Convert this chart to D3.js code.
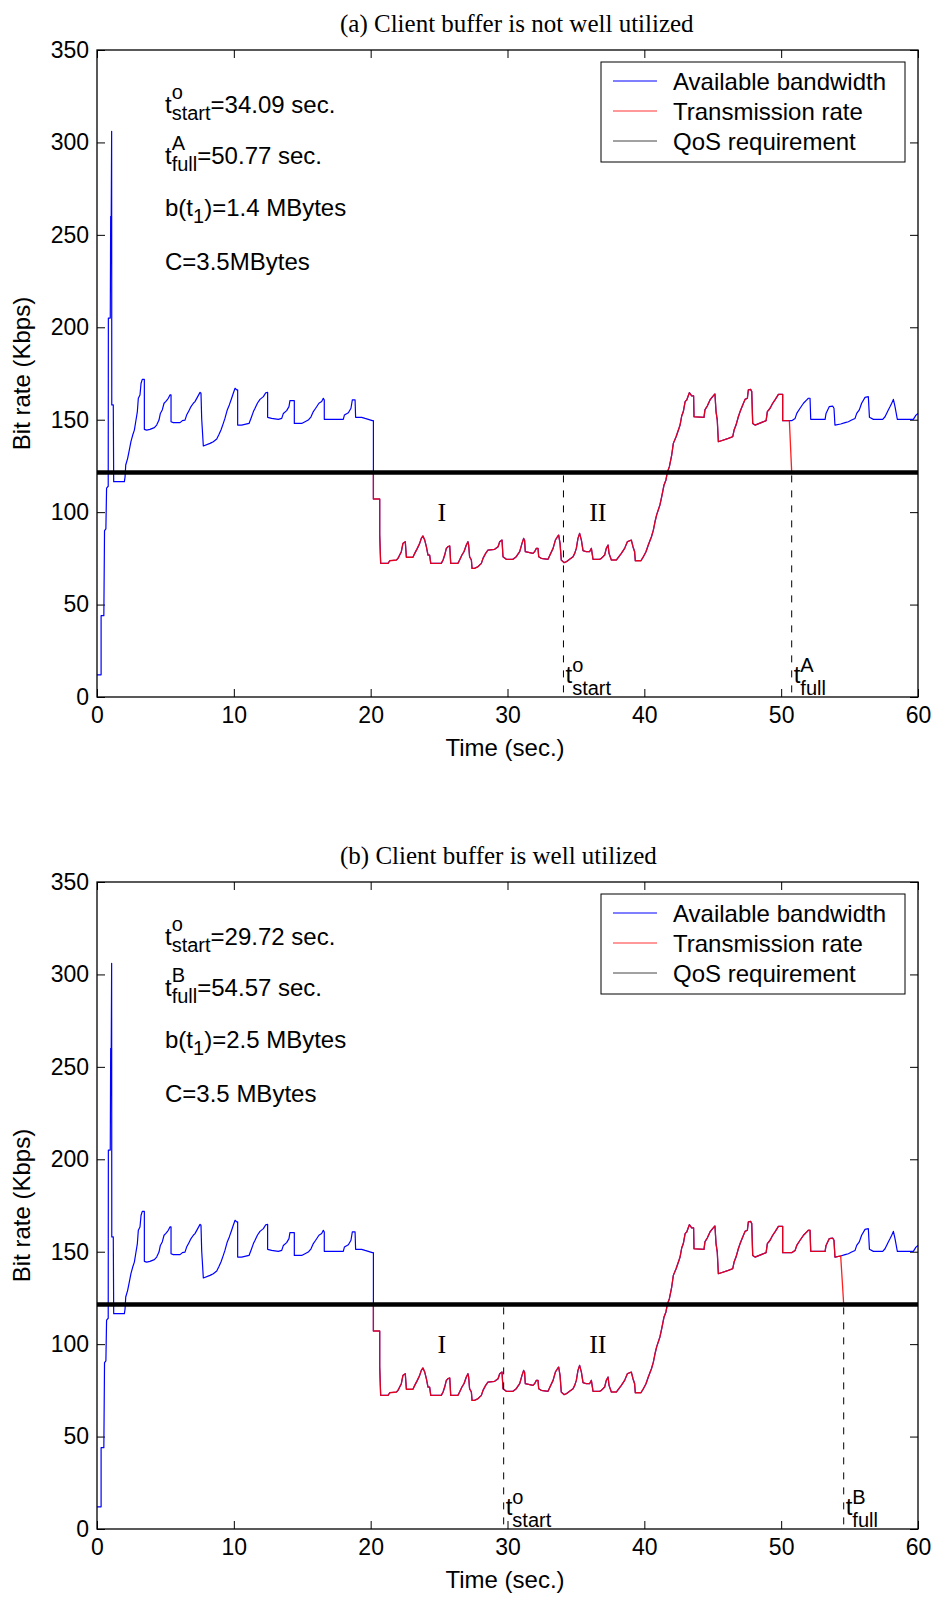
<!DOCTYPE html>
<html><head><meta charset="utf-8">
<script src="https://cdn.jsdelivr.net/npm/d3@7"></script>
<style>
html,body{margin:0;padding:0;background:#fff;}
svg{display:block;}
text{font-family:"Liberation Sans",Arial,Helvetica,sans-serif;fill:#000;}
.serif{font-family:"Liberation Serif","Times New Roman",serif;}
</style></head><body>
<svg id="chart" width="934" height="1597"></svg>
<script>
// ---------------- data ----------------
// available bandwidth (time in sec, Kbps) – same trace in both panels
const bandwidthPoints = [
[0,12],[0.3,12],[0.3,44],[0.5,44],[0.55,90],[0.65,91],[0.7,113],[0.82,114],[0.83,205],[0.97,205],[1.0,260],[1.04,260],[1.07,306],[1.08,158],[1.19,158],[1.22,116.5],[2.0,116.5],[2.05,119],
[2.1,125.5],[2.24,129.1],[2.36,133.6],[2.48,138.1],[2.61,141.7],[2.73,144.4],[2.83,148.9],[2.95,154.4],[3.02,161.6],[3.14,163.4],[3.22,169.7],[3.31,171.8],[3.46,171.8],[3.46,144.8],
[3.63,144.4],[3.87,144.8],[4.19,145.7],[4.36,147.1],[4.53,149.8],[4.63,153.4],[4.77,155.3],[4.90,158.9],[5.02,159.8],[5.21,161.6],[5.33,163.4],[5.41,163.4],[5.41,148.9],
[5.58,148.4],[6.07,148.4],[6.24,149.5],[6.43,149.8],[6.55,152.5],[6.72,154.9],[6.87,157.1],[7.04,158.9],[7.16,159.8],[7.36,162.5],[7.53,164.8],[7.60,164.3],[7.65,150.7],[7.77,135.8],
[8.26,137.2],[8.50,138.1],[8.75,139.6],[8.92,142.1],[9.06,144.4],[9.23,148.0],[9.35,150.7],[9.52,155.3],[9.67,158.0],[9.84,161.6],[9.96,164.3],[10.09,167.0],[10.21,166.1],[10.28,166.1],[10.28,147.1],
[10.57,147.1],[11.11,148.0],[11.25,150.7],[11.43,154.4],[11.55,156.2],[11.72,158.9],[11.91,161.0],[12.16,162.5],[12.33,164.6],[12.47,164.8],[12.47,151.3],
[12.76,150.7],[13.25,150.2],[13.50,150.7],[13.62,153.4],[13.86,154.9],[14.03,157.1],[14.10,160.3],[14.42,160.3],[14.42,148.0],
[14.96,148.0],[15.20,148.9],[15.44,149.8],[15.64,151.6],[15.81,154.4],[15.98,156.2],[16.22,158.9],[16.42,159.8],[16.54,161.6],[16.61,160.7],[16.61,150.2],
[18.00,150.2],[18.08,152.5],[18.37,153.8],[18.56,156.2],[18.66,160.7],[18.86,160.7],[18.90,151.3],[19.34,151.3],[19.59,150.7],[19.83,150.2],[20.12,149.5],[20.2,149.5],[20.2,107.1],
[20.66,107.1],[20.66,88.0],[20.73,72.3],[21.27,72.3],[21.39,73.7],[21.88,74.1],[22.00,75.0],[22.12,76.8],[22.24,78.6],[22.36,83.1],[22.53,84.0],[22.61,75.6],
[23.09,75.6],[23.22,77.7],[23.41,80.4],[23.58,83.1],[23.70,85.8],[23.82,87.1],[23.95,84.9],[24.07,81.3],[24.19,76.8],[24.31,76.8],[24.39,72.3],
[25.16,72.3],[25.29,74.1],[25.41,76.8],[25.53,80.4],[25.65,81.3],[25.78,81.7],[25.85,72.3],[26.38,72.3],[26.50,74.1],[26.67,76.8],[26.82,78.6],[26.99,82.2],[27.11,84.0],[27.16,82.2],[27.23,75.9],[27.36,74.1],[27.41,69.6],
[27.60,69.6],[27.84,70.5],[28.09,72.3],[28.21,75.0],[28.38,77.4],[28.57,79.5],[29.06,79.9],[29.31,81.3],[29.43,84.0],[29.60,84.9],[29.67,75.9],[29.91,74.5],
[30.40,74.5],[30.64,75.9],[30.89,78.6],[31.06,83.1],[31.18,85.8],[31.25,84.6],[31.30,78.6],[31.62,78.1],[31.86,77.7],[31.98,78.6],[32.11,80.4],[32.23,80.4],[32.28,75.9],
[32.47,75.0],[32.96,74.5],[33.16,77.7],[33.33,80.4],[33.50,84.9],[33.65,86.7],[33.74,87.6],[33.84,83.1],[33.93,74.1],[34.13,72.7],[34.30,73.2],[34.54,74.5],[34.79,75.9],[34.91,77.7],
[35.03,80.4],[35.15,85.8],[35.27,88.5],[35.40,84.9],[35.52,79.2],[35.76,78.6],[36.00,78.6],[36.13,80.4],[36.25,74.5],[36.74,74.5],[36.86,75.0],[37.10,76.8],[37.22,80.4],[37.35,82.2],[37.42,77.7],[37.59,74.1],
[37.95,74.1],[38.32,77.7],[38.56,80.4],[38.76,84.0],[39.05,84.9],[39.17,81.3],[39.29,78.6],[39.34,73.7],[39.75,73.7],[39.93,75.9],[40.12,78.6],[40.29,82.2],[40.52,86.7],[40.66,90.3],[40.78,94.8],
[40.90,98.5],[41.02,101.2],[41.14,103.9],[41.27,108.4],[41.44,114.7],[41.58,117.4],[41.68,121.5],[41.83,124.6],[42.00,130.9],[42.12,137.2],[42.32,140.8],[42.49,144.4],[42.61,147.1],[42.73,152.0],
[42.85,154.4],[42.98,159.8],[43.10,160.7],[43.29,164.6],[43.46,162.9],[43.60,162.9],[43.63,151.6],[44.36,151.3],[44.43,155.3],[44.60,157.4],[44.80,160.7],[44.99,162.5],[45.16,163.9],[45.24,154.4],[45.33,149.8],[45.41,138.1],
[45.78,139.0],[46.14,139.9],[46.46,140.8],[46.56,144.4],[46.70,147.1],[46.87,151.6],[47.00,154.4],[47.19,158.0],[47.36,161.0],[47.53,161.6],[47.60,166.1],[47.77,166.4],[47.85,165.2],[47.92,148.0],
[48.09,147.1],[48.90,149.5],[48.99,154.4],[49.19,156.2],[49.38,158.9],[49.55,160.7],[49.80,163.7],[50.11,163.7],[50.11,149.5],[50.60,149.5],[50.77,149.5],[51.02,150.7],[51.14,153.4],[51.38,156.2],
[51.63,158.9],[51.87,160.7],[51.99,161.6],[52.11,161.6],[52.16,150.2],[53.21,150.2],[53.28,153.4],[53.52,157.1],[53.76,157.4],[53.86,156.2],[53.93,147.1],[54.35,147.7],[54.67,148.4],[54.91,148.9],
[55.15,149.8],[55.40,150.7],[55.52,153.4],[55.71,155.3],[55.88,158.9],[56.13,162.1],[56.37,162.5],[56.45,151.3],[56.74,150.2],[57.42,150.2],[57.59,151.6],[57.83,155.3],[57.96,157.1],[58.08,158.9],
[58.20,161.0],[58.32,157.1],[58.49,150.2],[59.66,150.2],[59.85,152.5],[60.0,153.4]
];
const qosKbps = 121.5;            // QoS requirement
const belowQosTime = 20.2;        // bandwidth falls below QoS
const panelTitles = ["(a) Client buffer is not well utilized", "(b) Client buffer is well utilized"];
const tStartValues = [34.09, 29.72];
const tFullValues = [50.77, 54.57];
const fullCases = ["A", "B"];
const tStartTexts = ["=34.09 sec.", "=29.72 sec."];
const tFullTexts = ["=50.77 sec.", "=54.57 sec."];
const bufferTexts = [")=1.4 MBytes", ")=2.5 MBytes"];
const capacityTexts = ["C=3.5MBytes", "C=3.5 MBytes"];
const phaseLabels = [{text:"I", t:25.2, v:100}, {text:"II", t:36.6, v:100}];
const xTicks = [0,10,20,30,40,50,60];
const yTicks = [0,50,100,150,200,250,300,350];
const legendLabels = ["Available bandwidth", "Transmission rate", "QoS requirement"];
const seriesColors = ["#0000ff", "#ff0000", "#000000"];

// ---------------- drawing ----------------
const svg = d3.select("#chart");
const L = 97, R = 918;
const panelBoxes = [{top:50, bottom:697}, {top:882, bottom:1529}];

function subsup(g, x, y, base, sup, sub, rest, o) {
  const t0 = g.append("text").attr("x", x).attr("y", y).style("font-size", o.size + "px").text(base);
  const w = t0.node().getComputedTextLength();
  let wx = 0;
  if (sup) {
    const s = g.append("text").attr("x", x + w).attr("y", y - o.supDy).style("font-size", o.small + "px").text(sup);
    wx = Math.max(wx, s.node().getComputedTextLength());
  }
  if (sub) {
    const s = g.append("text").attr("x", x + w).attr("y", y + o.subDy).style("font-size", o.small + "px").text(sub);
    wx = Math.max(wx, s.node().getComputedTextLength());
  }
  if (rest) g.append("text").attr("x", x + w + wx).attr("y", y).style("font-size", o.size + "px").text(rest);
}

panelBoxes.forEach((pb, i) => {
  const g = svg.append("g");
  const x = d3.scaleLinear().domain([0, 60]).range([L, R]);
  const y = d3.scaleLinear().domain([0, 350]).range([pb.bottom, pb.top]);
  const line = d3.line().x(d => x(d[0])).y(d => y(d[1]));

  // title
  g.append("text").attr("class", "serif").attr("x", 340).attr("y", pb.top - 18)
    .style("font-size", "25px").text(panelTitles[i]);

  // axes (ticks inward, box)
  const tickLen = -8;
  const ax = [
    g.append("g").attr("transform", `translate(0,${pb.bottom})`).call(d3.axisBottom(x).tickValues(xTicks).tickSizeInner(tickLen).tickSizeOuter(0).tickPadding(10)),
    g.append("g").attr("transform", `translate(0,${pb.top})`).call(d3.axisTop(x).tickValues(xTicks).tickSizeInner(tickLen).tickSizeOuter(0).tickFormat("")),
    g.append("g").attr("transform", `translate(${L},0)`).call(d3.axisLeft(y).tickValues(yTicks).tickSizeInner(tickLen).tickSizeOuter(0).tickPadding(8)),
    g.append("g").attr("transform", `translate(${R},0)`).call(d3.axisRight(y).tickValues(yTicks).tickSizeInner(tickLen).tickSizeOuter(0).tickFormat(""))
  ];
  ax.forEach(a => {
    a.select(".domain").remove();
    a.selectAll("line").attr("stroke", "#000").attr("stroke-width", 1);
    a.selectAll("text").attr("font-family", null).style("font-size", "23px").attr("fill", "#000");
  });

  // series
  g.append("path").datum(bandwidthPoints).attr("d", line)
    .attr("fill", "none").attr("stroke", seriesColors[0]).attr("stroke-width", 1.2).attr("stroke-linejoin", "round");

  const tFull = tFullValues[i];
  const follow = bandwidthPoints.filter(p => (p[0] > belowQosTime || (p[0] === belowQosTime && p[1] < qosKbps)) && p[0] < tFull);
  const trans = [[0, qosKbps], [belowQosTime, qosKbps]].concat(follow, [[tFull, qosKbps], [60, qosKbps]]);
  g.append("path").datum(trans).attr("d", line)
    .attr("fill", "none").attr("stroke", seriesColors[1]).attr("stroke-opacity", 0.88).attr("stroke-width", 1.3).attr("stroke-linejoin", "round");

  g.append("line").attr("x1", x(0)).attr("x2", x(60)).attr("y1", y(qosKbps)).attr("y2", y(qosKbps))
    .attr("stroke", seriesColors[2]).attr("stroke-width", 4.5);

  // dashed markers
  [tStartValues[i], tFull].forEach(tv => {
    g.append("line").attr("x1", x(tv)).attr("x2", x(tv)).attr("y1", y(qosKbps) + 3).attr("y2", pb.bottom)
      .attr("stroke", "#000").attr("stroke-width", 1).attr("stroke-dasharray", "7,8");
  });
  const mo = {size: 24, small: 20, supDy: 11, subDy: 12};
  subsup(g, x(tStartValues[i]) + 2, pb.bottom - 14, "t", "o", "start", "", mo);
  subsup(g, x(tFull) + 2, pb.bottom - 14, "t", fullCases[i], "full", "", mo);

  // phase labels
  phaseLabels.forEach(p => {
    g.append("text").attr("class", "serif").attr("x", x(p.t)).attr("y", y(p.v)).attr("dy", "0.35em")
      .attr("text-anchor", "middle").style("font-size", "26px").text(p.text);
  });

  // annotations
  const ao = {size: 24, small: 20, supDy: 14, subDy: 7};
  subsup(g, 165, pb.top + 63, "t", "o", "start", tStartTexts[i], ao);
  subsup(g, 165, pb.top + 114, "t", fullCases[i], "full", tFullTexts[i], ao);
  subsup(g, 165, pb.top + 166, "b(t", "", "1", bufferTexts[i], ao);
  g.append("text").attr("x", 165).attr("y", pb.top + 220).style("font-size", "24px").text(capacityTexts[i]);

  // legend
  const lg = g.append("g").attr("transform", `translate(601,${pb.top + 12})`);
  lg.append("rect").attr("width", 304).attr("height", 100).attr("fill", "#fff").attr("stroke", "#000").attr("stroke-width", 1);
  legendLabels.forEach((lab, k) => {
    const yy = 19 + k * 30;
    lg.append("line").attr("x1", 12).attr("x2", 56).attr("y1", yy).attr("y2", yy)
      .attr("stroke", k === 2 ? "#444" : seriesColors[k]).attr("stroke-width", 1).attr("stroke-opacity", k === 1 ? 0.8 : 1);
    lg.append("text").attr("x", 72).attr("y", yy + 8.5).style("font-size", "24px").text(lab);
  });

  // box
  g.append("rect").attr("x", L).attr("y", pb.top).attr("width", R - L).attr("height", pb.bottom - pb.top)
    .attr("fill", "none").attr("stroke", "#000").attr("stroke-width", 1.3);

  // axis labels
  g.append("text").attr("x", 505).attr("y", pb.bottom + 59).attr("text-anchor", "middle").style("font-size", "24px").text("Time (sec.)");
  g.append("text").attr("transform", `translate(30,${(pb.top + pb.bottom) / 2}) rotate(-90)`)
    .attr("text-anchor", "middle").style("font-size", "24px").text("Bit rate (Kbps)");
});
</script>
</body></html>
